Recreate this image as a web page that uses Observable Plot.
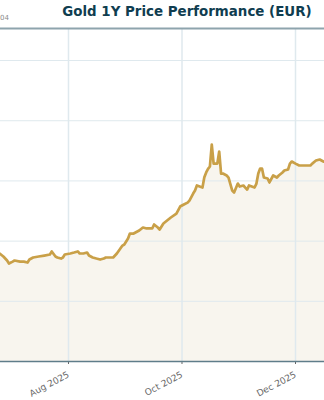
<!DOCTYPE html>
<html>
<head>
<meta charset="utf-8">
<script src="https://cdn.jsdelivr.net/npm/d3@7"></script>
<script src="https://cdn.jsdelivr.net/npm/@observablehq/plot@0.6"></script>
<style>
  html, body { margin: 0; padding: 0; background: #ffffff; overflow: hidden; }
  #wrap { position: relative; width: 324px; height: 400px; overflow: hidden; }
  #title { position: absolute; left: 0; top: 4px; width: 374px; text-align: center;
           font-family: "DejaVu Sans", sans-serif; font-weight: bold; font-size: 13.4px;
           line-height: 16px; color: #0f3d50; white-space: nowrap; }
  #note { position: absolute; left: 0px; top: 14px; text-align: left;
          font-family: "DejaVu Sans", sans-serif; font-size: 7px; line-height: 8px; color: #8a8a8a; }
  #chart { position: absolute; left: 0; top: 0; }
</style>
</head>
<body>
<div id="wrap">
  <div id="chart"></div>
  <div id="title">Gold 1Y Price Performance (EUR)</div>
  <div id="note">04</div>
</div>
<script>
const dates = [
  "2025-06-25","2025-06-27","2025-06-29","2025-06-30","2025-07-02","2025-07-03","2025-07-06",
  "2025-07-08","2025-07-10","2025-07-11","2025-07-13","2025-07-16","2025-07-19","2025-07-22",
  "2025-07-23","2025-07-25","2025-07-26","2025-07-28","2025-07-29","2025-07-30","2025-08-02",
  "2025-08-04","2025-08-06","2025-08-07","2025-08-09","2025-08-11","2025-08-12","2025-08-14",
  "2025-08-16","2025-08-18","2025-08-20","2025-08-21","2025-08-25","2025-08-27","2025-08-30",
  "2025-08-31","2025-09-02","2025-09-03","2025-09-05","2025-09-07","2025-09-08","2025-09-10",
  "2025-09-12","2025-09-15","2025-09-16","2025-09-18","2025-09-19","2025-09-21","2025-09-23",
  "2025-09-25","2025-09-28","2025-09-30","2025-10-02","2025-10-04","2025-10-05","2025-10-07",
  "2025-10-08","2025-10-09","2025-10-12","2025-10-13","2025-10-14","2025-10-15","2025-10-16",
  "2025-10-17","2025-10-18","2025-10-19","2025-10-20","2025-10-21","2025-10-22","2025-10-23",
  "2025-10-25","2025-10-26","2025-10-28","2025-10-29","2025-10-31","2025-11-01","2025-11-03",
  "2025-11-04","2025-11-05","2025-11-06","2025-11-09","2025-11-10","2025-11-11","2025-11-12",
  "2025-11-13","2025-11-14","2025-11-16","2025-11-17","2025-11-19","2025-11-21","2025-11-22",
  "2025-11-24","2025-11-25","2025-11-27","2025-11-28","2025-11-29","2025-12-01","2025-12-03",
  "2025-12-07","2025-12-09","2025-12-10","2025-12-12","2025-12-14","2025-12-16","2025-12-18"
];
const prices = [
  2897,2872,2839,2814,2830,2839,2830,
  2830,2822,2847,2864,2872,2880,2889,
  2914,2872,2864,2855,2864,2889,2897,
  2905,2914,2897,2897,2905,2880,2864,
  2855,2847,2855,2864,2864,2897,2963,
  2972,3022,3063,3063,3080,3088,3113,
  3105,3105,3138,3113,3096,3146,3171,
  3196,3229,3287,3304,3320,3337,3395,
  3420,3462,3445,3530,3570,3600,3620,
  3802,3644,3644,3644,3744,3561,3561,
  3545,3528,3420,3404,3478,3453,3462,
  3445,3428,3462,3445,3478,3561,3603,
  3603,3528,3520,3487,3545,3528,3545,
  3570,3586,3595,3644,3661,3644,3628,
  3628,3628,3644,3669,3678,3661,3661
];
const gridValues = [2500, 3000, 3500, 4000, 4500];
const tickDates = ["2025-08-01", "2025-10-01", "2025-12-01"];

const data = dates.map((d, i) => ({date: new Date(d), price: prices[i]}));
const ticks = tickDates.map(d => new Date(d));
const yMin = 2000, yMax = 4766;

const chart = Plot.plot({
  width: 324,
  height: 400,
  marginTop: 28,
  marginBottom: 39,
  marginLeft: 0,
  marginRight: 0,
  style: {fontFamily: "DejaVu Sans, sans-serif", fontSize: "9px", color: "#666", background: "transparent", overflow: "visible"},
  x: {
    type: "utc",
    domain: [new Date("2025-06-25T11:00Z"), new Date("2025-12-16T14:00Z")],
    ticks: ticks,
    tickFormat: d3.utcFormat("%b %Y"),
    tickRotate: -28,
    tickSize: 3,
    label: null
  },
  y: {domain: [yMin, yMax], axis: null},
  marks: [
    Plot.areaY(data, {x: "date", y1: yMin, y2: "price", fill: "#f8f5ee", clip: true}),
    Plot.ruleX(ticks, {stroke: "#dfe9ee", strokeWidth: 1.5}),
    Plot.ruleY(gridValues, {stroke: "#dfe9ee", strokeWidth: 1}),
    Plot.lineY(data, {x: "date", y: "price", stroke: "#c9a048", strokeWidth: 2.7, clip: true}),
    Plot.ruleY([yMax], {stroke: "#8ea4ad", strokeWidth: 2}),
    Plot.ruleY([yMin], {stroke: "#5f7d8a", strokeWidth: 1.5})
  ]
});
document.getElementById("chart").appendChild(chart);
</script>
</body>
</html>
